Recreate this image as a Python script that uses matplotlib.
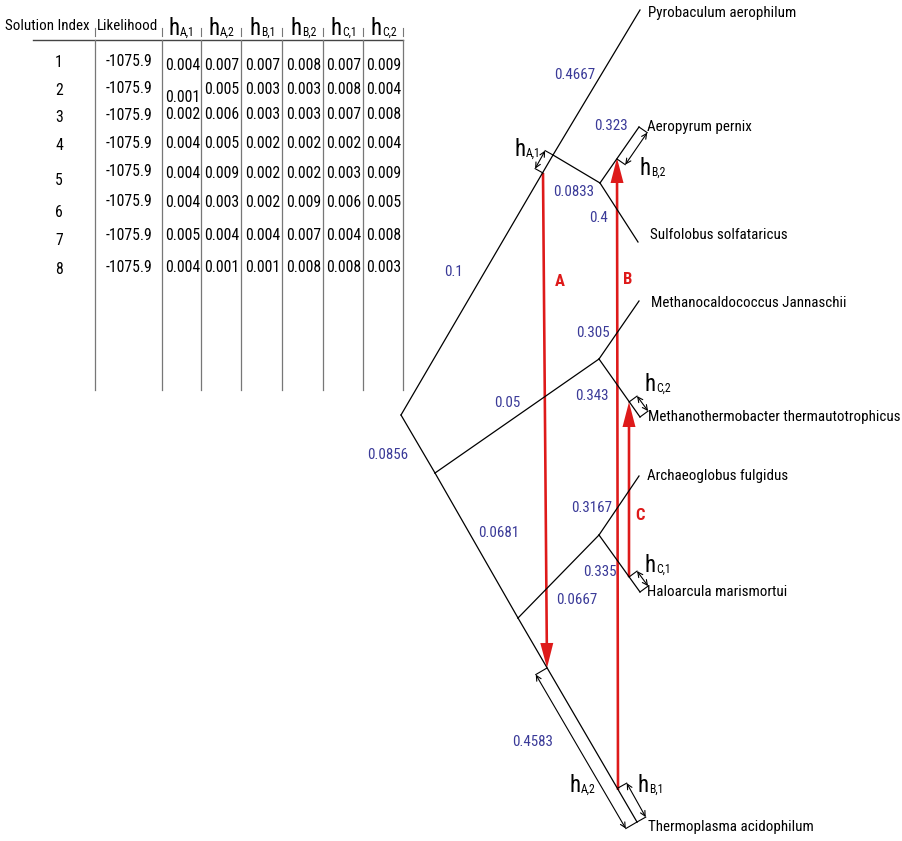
import numpy as np
import matplotlib.pyplot as plt

plt.rcParams['font.family'] = ['Roboto Condensed', 'DejaVu Sans']

# ---- table data ----
row_index = [1, 2, 3, 4, 5, 6, 7, 8]
likelihood = [-1075.9, -1075.9, -1075.9, -1075.9, -1075.9, -1075.9, -1075.9, -1075.9]
h_cols = ['A,1', 'A,2', 'B,1', 'B,2', 'C,1', 'C,2']
hA1 = [0.004, 0.001, 0.002, 0.004, 0.004, 0.004, 0.005, 0.004]
hA2 = [0.007, 0.005, 0.006, 0.005, 0.009, 0.003, 0.004, 0.001]
hB1 = [0.007, 0.003, 0.003, 0.002, 0.002, 0.002, 0.004, 0.001]
hB2 = [0.008, 0.003, 0.003, 0.002, 0.002, 0.009, 0.007, 0.008]
hC1 = [0.007, 0.008, 0.007, 0.002, 0.003, 0.006, 0.004, 0.008]
hC2 = [0.009, 0.004, 0.008, 0.004, 0.009, 0.005, 0.008, 0.003]

# ---- tree (pixel layout of the drawing) ----
nodes = {
    'root': (401, 415), 'n1': (553, 155), 'n2': (600, 183),
    'n3': (435, 473), 'n4': (599, 359), 'n5': (518, 618), 'n6': (599, 535),
    'Pyrobaculum aerophilum': (640, 10), 'Aeropyrum pernix': (639, 127),
    'Sulfolobus solfataricus': (638, 242), 'Methanocaldococcus Jannaschii': (639, 301),
    'Methanothermobacter thermautotrophicus': (640, 417), 'Archaeoglobus fulgidus': (639, 476),
    'Haloarcula marismortui': (640, 592), 'Thermoplasma acidophilum': (637, 822),
}
edges = [('root', 'n1'), ('n1', 'Pyrobaculum aerophilum'), ('n1', 'n2'),
         ('n2', 'Aeropyrum pernix'), ('n2', 'Sulfolobus solfataricus'),
         ('root', 'n3'), ('n3', 'n4'), ('n4', 'Methanocaldococcus Jannaschii'),
         ('n4', 'Methanothermobacter thermautotrophicus'), ('n3', 'n5'), ('n5', 'n6'),
         ('n6', 'Archaeoglobus fulgidus'), ('n6', 'Haloarcula marismortui'),
         ('n5', 'Thermoplasma acidophilum')]
branch_lengths = ['0.1', '0.4667', '0.0833', '0.323', '0.4', '0.0856', '0.05', '0.305',
                  '0.343', '0.0681', '0.0667', '0.3167', '0.335', '0.4583']
branch_label_pos = [(454, 272), (575, 75), (574, 192), (611, 126), (599, 218), (388, 455),
                    (507, 403), (593, 333), (592, 396), (499, 533), (577, 600), (592, 508),
                    (600, 572), (533, 742)]
taxon_label_pos = {
    'Pyrobaculum aerophilum': (648, 13), 'Aeropyrum pernix': (647, 127),
    'Sulfolobus solfataricus': (650, 235), 'Methanocaldococcus Jannaschii': (651, 303),
    'Methanothermobacter thermautotrophicus': (648, 417), 'Archaeoglobus fulgidus': (647, 476),
    'Haloarcula marismortui': (647, 592), 'Thermoplasma acidophilum': (648, 827),
}

red = '#de1a1a'
blue = '#3a3a98'
fs = 10.8      # tree labels
fs_tab = 11.3  # table cells

fig = plt.figure(figsize=(9.03, 8.41), dpi=100)
ax = fig.add_axes([0, 0, 1, 1])
ax.set_xlim(0, 903)
ax.set_ylim(841, 0)
ax.axis('off')
renderer = fig.canvas.get_renderer()


def hlabel(x, y, sub, size=16.5, subsize=8.5):
    t = ax.text(x, y, 'h', fontsize=size, ha='left', va='baseline')
    w = t.get_window_extent(renderer).width
    ax.text(x + w, y + 1, sub, fontsize=subsize, ha='left', va='baseline')


# table
col_lines = [95, 162, 201, 241, 282, 323, 363, 403]
ax.plot([33, 403], [40, 40], color='#444', lw=1)
for x in col_lines:
    ax.plot([x, x], [28, 36], color='#777', lw=0.8)
    ax.plot([x, x], [40, 390], color='#777', lw=0.9)
ax.text(5, 30, 'Solution Index', fontsize=fs, va='baseline')
ax.text(97, 30, 'Likelihood', fontsize=fs, va='baseline')
for i, s in enumerate(h_cols):
    hlabel(col_lines[i + 2] - 32, 35, s)

num_y = [62, 90, 117, 145, 180, 212, 240, 270]
lik_y = [61, 88, 115, 143, 171, 201, 235, 268]
val_y = [65, 89, 114, 143, 173, 202, 235, 268]
for i in range(len(row_index)):
    ax.text(59, num_y[i], str(row_index[i]), fontsize=fs_tab, ha='center', va='center')
    ax.text(129, lik_y[i], f'{likelihood[i]}', fontsize=fs_tab, ha='center', va='center')
    for j, col in enumerate([hA1, hA2, hB1, hB2, hC1, hC2]):
        cx = (col_lines[j + 1] + col_lines[j + 2]) / 2 + 1
        cy = val_y[i] + (8 if (i, j) == (1, 0) else 0)
        ax.text(cx, cy, f'{col[i]:.3f}', fontsize=fs_tab, ha='center', va='center')

# tree
for (a, b), lab, pos in zip(edges, branch_lengths, branch_label_pos):
    (x0, y0), (x1, y1) = nodes[a], nodes[b]
    ax.plot([x0, x1], [y0, y1], color='black', lw=0.9)
    ax.text(pos[0], pos[1], lab, color=blue, fontsize=fs, ha='center', va='center')
for name, (x, y) in taxon_label_pos.items():
    ax.text(x, y, name, fontsize=fs, ha='left', va='center')


def bracket(p, q, d):
    p, q = np.array(p, float), np.array(q, float)
    t = (q - p) / np.hypot(*(q - p))
    n = np.array([-t[1], t[0]]) * d
    ax.plot([p[0], p[0] + n[0]], [p[1], p[1] + n[1]], color='black', lw=0.8)
    ax.plot([q[0], q[0] + n[0]], [q[1], q[1] + n[1]], color='black', lw=0.8)
    ax.annotate('', xy=q + n, xytext=p + n,
                arrowprops=dict(arrowstyle='<->', lw=0.8, color='black',
                                shrinkA=0, shrinkB=0, mutation_scale=9))


bracket((543, 173), (553, 155), -9)
bracket((617, 159), (639, 127), 10)
bracket((629, 402), (640, 417), -10)
bracket((629, 577), (640, 592), -10)
bracket((547, 668), (637, 822), 13)
bracket((618, 788), (637, 822), -10)

hlabel(515, 156, 'A,1')
hlabel(640, 175, 'B,2')
hlabel(645, 391, 'C,2')
hlabel(645, 572, 'C,1')
hlabel(570, 792, 'A,2')
hlabel(638, 792, 'B,1')

# transfer arrows
arrows = {'A': ((543, 173), (547, 668), (560, 282)),
          'B': ((618, 790), (617, 158), (628, 280)),
          'C': ((629, 577), (629, 402), (640, 515))}
for name, (s, e, lp) in arrows.items():
    ax.arrow(s[0], s[1], e[0] - s[0], e[1] - s[1], width=2.6, head_width=13,
             head_length=25, length_includes_head=True, color=red, lw=0)
    ax.text(lp[0], lp[1], name, color=red, fontsize=12, fontweight='bold',
            ha='center', va='center')

fig.savefig('out.png', dpi=100)
